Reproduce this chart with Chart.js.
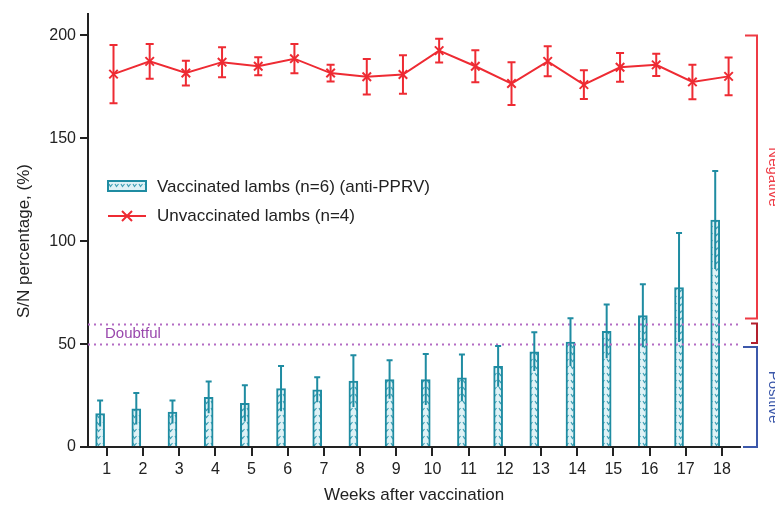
<!DOCTYPE html>
<html>
<head>
<meta charset="utf-8">
<script src="https://cdn.jsdelivr.net/npm/chart.js@4.4.1/dist/chart.umd.min.js"></script>
<style>
  html, body { margin: 0; padding: 0; background: #fff; }
</style>
</head>
<body>
<canvas id="chart" width="775" height="512"></canvas>
<script>
// Weeks on the x axis
const weeks = [1, 2, 3, 4, 5, 6, 7, 8, 9, 10, 11, 12, 13, 14, 15, 16, 17, 18];

// Vaccinated lambs: mean S/N % and SD
const vaccinatedMean = [16.3, 18.6, 17.0, 24.1, 21.2, 28.4, 27.8, 32.0, 32.8, 32.8, 33.6, 39.2, 46.3, 51.0, 56.2, 63.8, 77.5, 110.3];
const vaccinatedSD = [6.3, 7.7, 5.6, 7.7, 8.8, 11.0, 6.1, 12.6, 9.3, 12.4, 11.4, 9.9, 9.4, 11.6, 13.1, 15.3, 26.5, 23.8];

// Unvaccinated lambs: mean S/N % and SD
const unvaccinatedMean = [181.2, 187.4, 181.7, 187.0, 185.0, 188.7, 181.7, 179.9, 181.0, 192.6, 185.0, 176.6, 187.4, 176.1, 184.5, 185.7, 177.4, 180.1];
const unvaccinatedSD = [14.2, 8.4, 6.0, 7.3, 4.4, 7.1, 4.1, 8.6, 9.4, 5.8, 7.8, 10.4, 7.3, 7.0, 7.0, 5.4, 8.4, 9.2];

// Axis ticks
const yTicks = [0, 50, 100, 150, 200];

// Cut-off lines and interpretation zones
const cutoffValues = [60, 50];
const zoneLabels = ['Negative', 'Doubtful', 'Positive'];
const zoneLow = [62.5, 50.5, 0];
const zoneHigh = [200, 60, 48.6];

const seriesLabels = ['Vaccinated lambs (n=6) (anti-PPRV)', 'Unvaccinated lambs (n=4)'];
const yTitle = 'S/N percentage, (%)';
const xTitle = 'Weeks after vaccination';

// Styles
const FONT = '"Liberation Sans", Arial, sans-serif';
const TEAL = '#1f8ca2';
const RED = '#ee2b33';
const PURPLE = '#b36cc4';
const zoneColors = ['#ee3b45', '#b3202e', '#3c58aa'];
const GROUP_OFFSET = 0.185;

// Pattern for the bars (small squiggles on light cyan)
const makePattern = () => {
  const c = document.createElement('canvas');
  c.width = 6;
  c.height = 7;
  const g = c.getContext('2d');
  g.fillStyle = '#dff2f6';
  g.fillRect(0, 0, 6, 7);
  g.strokeStyle = '#3d9fb4';
  g.lineWidth = 1.2;
  g.beginPath();
  g.moveTo(1, 2);
  g.lineTo(2.5, 4.5);
  g.lineTo(4.5, 2);
  g.stroke();
  return g.createPattern(c, 'repeat');
};
const barPattern = makePattern();

// Error bars, cut-off lines, zone brackets, legend and y title
const extras = {
  id: 'extras',
  afterDatasetsDraw(chart) {
    const { ctx, scales: { x, y }, chartArea } = chart;
    ctx.save();

    // dotted cut-off lines
    ctx.strokeStyle = PURPLE;
    ctx.lineWidth = 2;
    ctx.setLineDash([2, 4]);
    cutoffValues.forEach(v => {
      const py = Math.round(y.getPixelForValue(v)) + 0.5;
      ctx.beginPath();
      ctx.moveTo(chartArea.left, py);
      ctx.lineTo(chartArea.right, py);
      ctx.stroke();
    });
    ctx.setLineDash([]);
    ctx.fillStyle = '#9a48ad';
    ctx.font = '15px ' + FONT;
    ctx.textBaseline = 'middle';
    ctx.textAlign = 'left';
    ctx.fillText(zoneLabels[1], 105, (y.getPixelForValue(cutoffValues[0]) + y.getPixelForValue(cutoffValues[1])) / 2);

    // vaccinated error bars
    ctx.strokeStyle = TEAL;
    ctx.lineWidth = 2;
    weeks.forEach((w, i) => {
      const px = x.getPixelForValue(w - GROUP_OFFSET);
      const top = y.getPixelForValue(vaccinatedMean[i] + vaccinatedSD[i]);
      const bot = y.getPixelForValue(vaccinatedMean[i] - vaccinatedSD[i]);
      ctx.beginPath();
      ctx.moveTo(px, bot);
      ctx.lineTo(px, top);
      ctx.moveTo(px - 3, top);
      ctx.lineTo(px + 3, top);
      ctx.stroke();
    });

    // unvaccinated error bars
    ctx.strokeStyle = RED;
    weeks.forEach((w, i) => {
      const px = x.getPixelForValue(w + GROUP_OFFSET);
      const top = y.getPixelForValue(unvaccinatedMean[i] + unvaccinatedSD[i]);
      const bot = y.getPixelForValue(unvaccinatedMean[i] - unvaccinatedSD[i]);
      ctx.beginPath();
      ctx.moveTo(px, bot);
      ctx.lineTo(px, top);
      ctx.moveTo(px - 4, top);
      ctx.lineTo(px + 4, top);
      ctx.moveTo(px - 4, bot);
      ctx.lineTo(px + 4, bot);
      ctx.stroke();
    });

    // zone brackets on the right
    const tickLeft = [745, 751, 743];
    zoneLabels.forEach((label, i) => {
      const y1 = y.getPixelForValue(zoneHigh[i]);
      const y2 = y.getPixelForValue(zoneLow[i]);
      ctx.strokeStyle = zoneColors[i];
      ctx.lineWidth = 2;
      ctx.beginPath();
      ctx.moveTo(tickLeft[i], y1);
      ctx.lineTo(757, y1);
      ctx.lineTo(757, y2);
      ctx.lineTo(tickLeft[i], y2);
      ctx.stroke();
      if (i !== 1) {
        ctx.save();
        ctx.translate(766, (y1 + y2) / 2);
        ctx.rotate(Math.PI / 2);
        ctx.fillStyle = zoneColors[i];
        ctx.font = '15px ' + FONT;
        ctx.textAlign = 'center';
        ctx.textBaseline = 'bottom';
        ctx.fillText(label, 0, 0);
        ctx.restore();
      }
    });

    // legend
    ctx.font = '17px ' + FONT;
    ctx.textAlign = 'left';
    ctx.textBaseline = 'middle';
    ctx.fillStyle = barPattern;
    ctx.fillRect(108, 181, 38, 10);
    ctx.strokeStyle = TEAL;
    ctx.lineWidth = 2;
    ctx.strokeRect(108, 181, 38, 10);
    ctx.fillStyle = '#222';
    ctx.fillText(seriesLabels[0], 157, 187);
    ctx.strokeStyle = RED;
    ctx.beginPath();
    ctx.moveTo(108, 216);
    ctx.lineTo(146, 216);
    ctx.moveTo(122, 211);
    ctx.lineTo(132, 221);
    ctx.moveTo(132, 211);
    ctx.lineTo(122, 221);
    ctx.stroke();
    ctx.fillText(seriesLabels[1], 157, 216);

    // y axis title
    ctx.save();
    ctx.translate(24, 241);
    ctx.rotate(-Math.PI / 2);
    ctx.textAlign = 'center';
    ctx.font = '17px ' + FONT;
    ctx.fillText(yTitle, 0, 0);
    ctx.restore();

    ctx.restore();
  }
};

const ctx = document.getElementById('chart').getContext('2d');
const grafico = new Chart(ctx, {
  type: 'bar',
  data: {
    datasets: [
      {
        type: 'bar',
        label: seriesLabels[0],
        data: weeks.map((w, i) => ({ x: w - GROUP_OFFSET, y: vaccinatedMean[i] })),
        backgroundColor: barPattern,
        borderColor: TEAL,
        borderWidth: 2,
        barThickness: 9,
        order: 2
      },
      {
        type: 'line',
        label: seriesLabels[1],
        data: weeks.map((w, i) => ({ x: w + GROUP_OFFSET, y: unvaccinatedMean[i] })),
        borderColor: RED,
        borderWidth: 2,
        pointStyle: 'crossRot',
        pointRadius: 6,
        pointBorderWidth: 2,
        pointBorderColor: RED,
        tension: 0,
        order: 1
      }
    ]
  },
  options: {
    responsive: false,
    animation: false,
    layout: { padding: { top: 12, right: 35, left: 0, bottom: 0 } },
    plugins: {
      legend: { display: false },
      tooltip: { enabled: false }
    },
    scales: {
      x: {
        type: 'linear',
        min: 0.48,
        max: 18.5,
        offset: false,
        afterBuildTicks: s => { s.ticks = weeks.map(v => ({ value: v })); },
        afterFit: s => { s.height = 65; },
        grid: { offset: false, drawOnChartArea: false, drawTicks: true, tickLength: 9, color: '#222', lineWidth: 2 },
        border: { display: true, color: '#222', width: 2 },
        ticks: { color: '#222', font: { family: FONT, size: 16 }, padding: 4, maxRotation: 0, autoSkip: false },
        title: { display: true, text: xTitle, color: '#222', font: { family: FONT, size: 17 }, padding: { top: 0, bottom: 6 } }
      },
      y: {
        min: 0,
        max: 210.6,
        afterBuildTicks: s => { s.ticks = yTicks.map(v => ({ value: v })); },
        afterFit: s => { s.width = 88; },
        grid: { drawOnChartArea: false, drawTicks: true, tickLength: 8, color: '#222', lineWidth: 2 },
        border: { display: true, color: '#222', width: 2 },
        ticks: { color: '#222', font: { family: FONT, size: 16 }, padding: 4 }
      }
    }
  },
  plugins: [extras]
});
</script>
</body>
</html>
